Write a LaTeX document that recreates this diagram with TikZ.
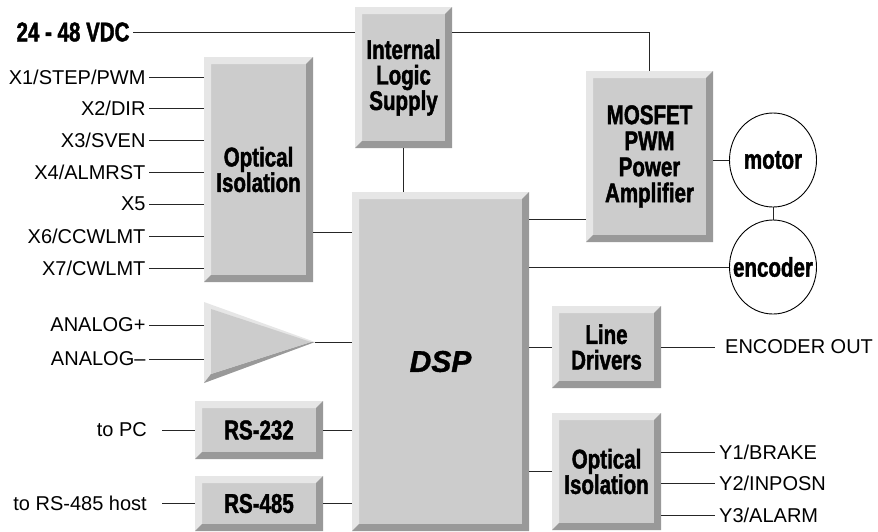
\documentclass[tikz,border=0pt]{standalone}
\usepackage{fontspec}
\setmainfont{Liberation Sans}
\newfontface\condface[FakeStretch=0.76,FakeBold=1.6]{Liberation Sans Bold}
\newfontface\dspface[FakeBold=1.2]{Liberation Sans Bold Italic}
\usetikzlibrary{shapes.geometric}
\definecolor{facegray}{HTML}{CCCCCC}
\definecolor{lightbevel}{HTML}{E6E6E6}
\definecolor{darkbevel}{HTML}{999999}
\newcommand{\boxfont}{\condface\fontsize{27}{25.5}\selectfont}
\newcommand{\sigfont}{\fontsize{20}{24}\selectfont}

\begin{document}
\begin{tikzpicture}[x=1pt, y=-1pt,
    wire/.style={draw=black!85, line width=0.9pt},
    sig/.style={font=\sigfont},
    pwr/.style={font=\boxfont},
    ell/.style={ellipse, draw, line width=0.9pt, fill=white, minimum width=87pt, minimum height=94pt, inner sep=0pt, font=\boxfont},
    bevelbox/.style={fill=facegray, inner sep=0pt, align=center, font=\boxfont,
        path picture={
            \fill[lightbevel] (path picture bounding box.south west) -- (path picture bounding box.north west)
                -- (path picture bounding box.north east) -- ([shift={(-7pt,-7pt)}]path picture bounding box.north east)
                -- ([shift={(7pt,-7pt)}]path picture bounding box.north west) -- ([shift={(7pt,7pt)}]path picture bounding box.south west) -- cycle;
            \fill[darkbevel] (path picture bounding box.south west) -- (path picture bounding box.south east)
                -- (path picture bounding box.north east) -- ([shift={(-7pt,-7pt)}]path picture bounding box.north east)
                -- ([shift={(-7pt,7pt)}]path picture bounding box.south east) -- ([shift={(7pt,7pt)}]path picture bounding box.south west) -- cycle;
        }}]
    \useasboundingbox (0,0) rectangle (878,531);

    \node[bevelbox, minimum width=97pt, minimum height=141pt] (ils) at (403.5,77.5) {Internal\\Logic\\Supply};
    \node[bevelbox, minimum width=109pt, minimum height=225pt] (optL) at (258.5,169.5) {Optical\\Isolation};
    \node[bevelbox, minimum width=177pt, minimum height=339pt, font=\dspface\fontsize{30}{30}\selectfont] (dsp) at (440.5,361.5) {\raisebox{-5pt}{DSP}};
    \node[bevelbox, minimum width=127pt, minimum height=171pt, font=\condface\fontsize{27}{26}\selectfont] (mosfet) at (649.5,156.5) {MOSFET\\PWM\\Power\\Amplifier};
    \node[bevelbox, minimum width=128pt, minimum height=58pt] (rs232) at (259,430) {RS-232};
    \node[bevelbox, minimum width=128pt, minimum height=55pt] (rs485) at (259,503.5) {RS-485};
    \node[bevelbox, minimum width=109pt, minimum height=82pt] (linedrv) at (606.5,347) {Line\\Drivers};
    \node[bevelbox, minimum width=109pt, minimum height=117pt] (optR) at (606.5,471.5) {Optical\\Isolation};

    \node[ell] (motor) at (773,160) {\makebox[0pt]{motor}};
    \node[ell] (enc) at (773,267) {\makebox[0pt]{encoder}};

    \fill[lightbevel] (204,302) -- (315,342) -- (204,383) -- cycle;
    \fill[darkbevel] (204,383) -- (315,342) -- (311,342) -- (211,374) -- cycle;
    \fill[facegray] (211,309) -- (311,342) -- (211,374) -- cycle;
    \coordinate (ampL) at (204,342);
    \coordinate (amptip) at (315,342);

    \node[pwr, anchor=east] (vdc) at (133,32) {24 - 48 VDC};
    \draw[wire] (vdc.east) -- (vdc.east -| ils.west);
    \draw[wire] (vdc.east -| ils.east) -| (mosfet.north);

    \foreach \yy/\lbl [count=\i] in {77/{X1/STEP/PWM}, 108/{X2/DIR}, 140/{X3/SVEN}, 172/{X4/ALMRST},
                                     204/{X5}, 236/{X6/CCWLMT}, 268/{X7/CWLMT}} {
        \node[sig, anchor=east] (in\i) at (149,\yy) {\lbl};
        \draw[wire] (in\i.east) -- (in\i.east -| optL.west);
    }
    \node[sig, anchor=east] (anp) at (149,325) {ANALOG+};
    \node[sig, anchor=east] (anm) at (149,359) {ANALOG–};
    \draw[wire] (anp.east) -- (anp.east -| ampL);
    \draw[wire] (anm.east) -- (anm.east -| ampL);

    \node[sig, anchor=east, inner xsep=15pt] (topc) at (162,430) {to PC};
    \node[sig, anchor=east, inner xsep=15pt] (tohost) at (162,503.5) {to RS-485 host};
    \draw[wire] (topc.east) -- (rs232.west);
    \draw[wire] (tohost.east) -- (rs485.west);

    \draw[wire] (optL.east |- 0,232) -- (dsp.west |- 0,232);
    \draw[wire] (amptip) -- (amptip -| dsp.west);
    \draw[wire] (rs232.east) -- (rs232.east -| dsp.west);
    \draw[wire] (rs485.east) -- (rs485.east -| dsp.west);
    \draw[wire] (ils.south) -- (ils.south |- dsp.north);

    \draw[wire] (dsp.east |- 0,219) -- (mosfet.west |- 0,219);
    \draw[wire] (enc.west -| dsp.east) -- (enc.west);
    \draw[wire] (motor.west -| mosfet.east) -- (motor.west);
    \draw[wire] (motor.south) -- (enc.north);
    \draw[wire] (linedrv.west -| dsp.east) -- (linedrv.west);
    \draw[wire] (optR.west -| dsp.east) -- (optR.west);

    \node[sig, anchor=west, inner xsep=10pt] (encout) at (715,347) {ENCODER OUT};
    \draw[wire] (linedrv.east) -- (encout.west);
    \foreach \yy/\lbl [count=\i] in {452/{Y1/BRAKE}, 483/{Y2/INPOSN}, 515/{Y3/ALARM}} {
        \node[sig, anchor=west, inner xsep=4pt] (out\i) at (715,\yy) {\lbl};
        \draw[wire] (out\i.west -| optR.east) -- (out\i.west);
    }
\end{tikzpicture}
\end{document}
